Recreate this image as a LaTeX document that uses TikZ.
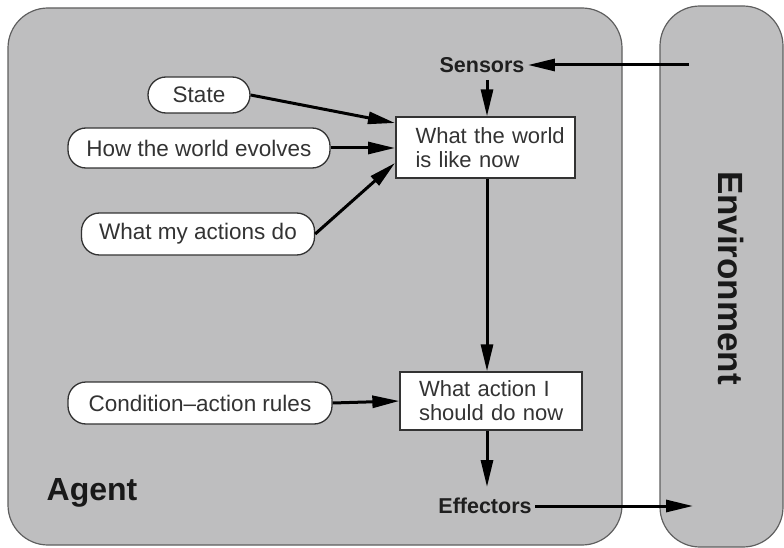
\documentclass[tikz,border=0pt]{standalone}
\usepackage{fontspec}
\setmainfont{Liberation Sans}
\usetikzlibrary{arrows.meta}
\definecolor{panel}{RGB}{190,190,191}
\definecolor{edge}{RGB}{95,95,95}
\begin{document}
\begin{tikzpicture}[x=1pt,y=-1pt,
  panelbox/.style={draw=edge,line width=1.2pt,fill=panel,rounded corners=40pt},
  pill/.style={draw=black!80,line width=1.3pt,fill=white,rounded corners=18pt,
    minimum height=38pt,inner sep=0pt,font=\fontsize{22.5}{24}\selectfont,text=black!80},
  infobox/.style={draw=black!80,line width=1.3pt,fill=white,align=left,
    inner sep=0pt,font=\fontsize{22}{24}\selectfont,text=black!80},
  tag/.style={font=\fontsize{21.5}{24}\selectfont\bfseries,text=black!88},
  flow/.style={line width=3pt,-{Triangle[length=27pt,width=12pt]}}]
\useasboundingbox (0,0) rectangle (784,548);

% agent and environment panels
\draw[panelbox] (8,8) rectangle (622,545);
\draw[panelbox] (660,6) rectangle (783,547);

% inputs to the state estimate
\node[pill,minimum width=102pt,minimum height=36pt] (state) at (199,95) {State};
\node[pill,minimum width=262pt,minimum height=40pt] (evolve) at (199,148) {How the world evolves};
\node[pill,minimum width=233pt,minimum height=42pt] (actions) at (198,234) {What my actions do};
\node[pill,minimum width=264pt,minimum height=42pt] (rules) at (200,403) {Condition\textendash action rules};

% boxes (text inset a little from the left edge)
\node[infobox,minimum width=179pt,minimum height=61pt,text width=160pt] (world) at (485.5,147.5)
  {\hspace*{10pt}What the world\\\hspace*{10pt}is like now};
\node[infobox,minimum width=182pt,minimum height=58pt,text width=160pt] (decide) at (491,401)
  {\hspace*{8pt}What action I\\\hspace*{8pt}should do now};

% labels
\node[tag] (sensors) at (482,65) {Sensors};
\node[tag] (effectors) at (485,506) {Effectors};
\node[font=\fontsize{32}{36}\selectfont\bfseries,text=black!90] (agent) at (92,493) {Agent};
\node[font=\fontsize{35}{38}\selectfont\bfseries,text=black!90,rotate=-90] (env) at (731,278) {Environment};

\coordinate (envin) at (689,65);
\coordinate (envout) at (693,506);
\coordinate (sdrop) at (487,80);

% connectors
\draw[flow] (envin) -- (sensors.east);
\draw[flow] (sdrop) -- (sdrop |- world.north);
\draw[flow] (state.east) -- (395,123);
\draw[flow] (evolve.east) -- (395,148);
\draw[flow] (actions.east) -- (395,163);
\draw[flow] (world.south -| sdrop) -- (sdrop |- decide.north);
\draw[flow] (rules.east) -- (decide.west);
\draw[flow] (decide.south -| sdrop) -- (487,487);
\draw[flow] (effectors.east) -- (envout);
\end{tikzpicture}
\end{document}
